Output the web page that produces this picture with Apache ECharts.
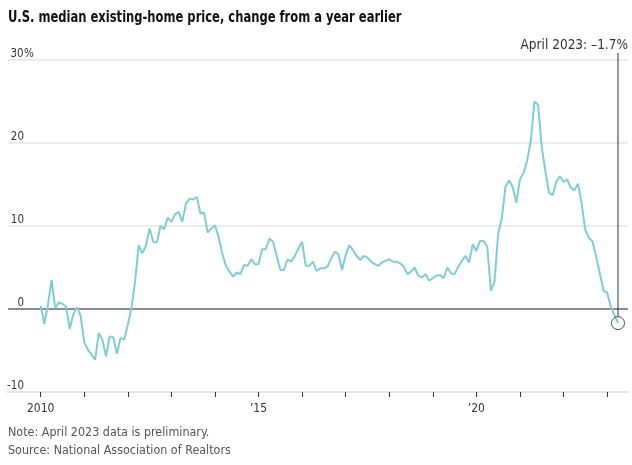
<!DOCTYPE html>
<html><head><meta charset="utf-8">
<script src="https://cdn.jsdelivr.net/npm/echarts@6/dist/echarts.min.js"></script>
<style>html,body{margin:0;padding:0;background:#fff}#c{width:632px;height:465px}</style>
</head><body><div id="c"></div>
<script>
// Monthly year-over-year change (%), Jan 2010 – Apr 2023
const startYear = 2010;
const v2010 = [0.4, -1.8, 0.5, 3.5, 0.1, 0.8, 0.6, 0.3, -2.4, -0.6, 0.2, -0.8];
const v2011 = [-4.0, -4.9, -5.5, -6.1, -2.9, -3.7, -5.7, -3.3, -3.4, -5.4, -3.5, -3.7];
const v2012 = [-1.9, 0.1, 3.3, 7.7, 6.7, 7.6, 9.7, 8.1, 8.0, 10.0, 9.6, 11.0];
const v2013 = [10.5, 11.4, 11.7, 10.5, 12.7, 13.3, 13.2, 13.5, 11.5, 11.6, 9.2, 9.7];
const v2014 = [10.1, 8.7, 6.7, 5.2, 4.5, 3.9, 4.4, 4.2, 5.3, 5.2, 6.0, 5.4];
const v2015 = [5.4, 7.2, 7.2, 8.5, 8.1, 6.4, 4.7, 4.7, 6.0, 5.7, 6.4, 7.3];
const v2016 = [8.1, 5.2, 5.2, 5.7, 4.6, 4.9, 4.9, 5.1, 6.1, 6.9, 6.6, 4.7];
const v2017 = [6.5, 7.7, 7.1, 6.4, 5.9, 6.4, 6.2, 5.7, 5.4, 5.2, 5.6, 5.8];
const v2018 = [6.0, 5.7, 5.7, 5.5, 5.1, 4.2, 4.5, 5.0, 4.0, 3.8, 4.2, 3.4];
const v2019 = [3.7, 4.0, 4.1, 3.7, 5.0, 4.3, 4.2, 5.1, 5.8, 6.4, 5.6, 7.8];
const v2020 = [7.0, 8.2, 8.2, 7.5, 2.2, 3.3, 9.1, 10.9, 14.7, 15.5, 14.7, 12.8];
const v2021 = [15.6, 16.4, 17.9, 20.3, 25.0, 24.6, 19.5, 16.6, 14.0, 13.7, 15.3, 16.0];
const v2022 = [15.3, 15.6, 14.6, 14.3, 15.1, 12.7, 9.5, 8.6, 8.1, 6.3, 4.3, 2.2];
const v2023 = [2.0, 0.3, -0.7, -1.7];

const yearTicks = [2010, 2011, 2012, 2013, 2014, 2015, 2016, 2017, 2018, 2019, 2020, 2021, 2022, 2023];
const yearLabels = [2010, 2015, 2020];
const titleText = 'U.S. median existing-home price, change from a year earlier';
const annotationText = 'April 2023: \u20131.7%';
const noteText = 'Note: April 2023 data is preliminary.';
const sourceText = 'Source: National Association of Realtors';

const allValues = [].concat(v2010, v2011, v2012, v2013, v2014, v2015, v2016, v2017, v2018, v2019, v2020, v2021, v2022, v2023);
const points = allValues.map((v, i) => [startYear + i / 12, v]);
const last = points[points.length - 1];

const FONT = "'DejaVu Sans Condensed','Liberation Sans Narrow',sans-serif";
const chart = echarts.init(document.getElementById('c'), null, {renderer: 'canvas'});

chart.setOption({
  animation: false,
  grid: {left: 8, right: 4, top: 60, bottom: 73},
  xAxis: {
    type: 'value', min: 2009.25, max: 2023.48,
    axisLine: {show: true, onZero: false, lineStyle: {color: '#e4e4e4', width: 2}},
    axisTick: {show: true, customValues: yearTicks, length: 5, lineStyle: {color: '#333', width: 1}},
    axisLabel: {
      customValues: yearLabels, margin: 11,
      formatter: v => (v === 2010 ? '2010' : '\u2019' + String(v).slice(2)),
      fontFamily: FONT, fontSize: 12, color: '#333'
    },
    splitLine: {show: false}
  },
  yAxis: {
    type: 'value', min: -10, max: 30, interval: 10,
    axisLine: {show: false}, axisTick: {show: false},
    axisLabel: {
      inside: true, margin: 2, verticalAlign: 'bottom', padding: [0, 0, 0, 0],
      formatter: v => (v === 30 ? '{n|30}{p|%}' : '{n|' + v + '}'),
      rich: {
        n: {width: 14, align: 'right', fontFamily: FONT, fontSize: 11.5, color: '#333'},
        p: {fontFamily: FONT, fontSize: 11.5, color: '#333'}
      }
    },
    splitLine: {lineStyle: {color: '#ececec', width: 2}}
  },
  series: [
    {
      type: 'line', data: points, showSymbol: false, z: 3,
      lineStyle: {color: '#7fced4', width: 2},
      markLine: {
        silent: true, symbol: ['none', 'none'], label: {show: false},
        lineStyle: {color: '#8c8c8c', width: 2, type: 'solid'},
        data: [{yAxis: 0}], z: 2
      }
    },
    {
      type: 'scatter', data: [last], symbol: 'circle', symbolSize: 13, z: 5, silent: true,
      itemStyle: {color: 'rgba(255,255,255,0)', borderColor: '#222', borderWidth: 1}
    }
  ]
});

const px = chart.convertToPixel({seriesIndex: 1}, last);
function txt(text, x, y, font, fill, sx, align) {
  return {type: 'text', silent: true, z: 10, x: x, y: y, scaleX: sx,
    style: {text: text, font: font, fill: fill, align: align || 'left', verticalAlign: 'middle'}};
}
chart.setOption({
  graphic: [
    txt(titleText, 8, 18, 'bold 15px ' + FONT, '#111', 0.855),
    txt(noteText, 8, 433, '13px ' + FONT, '#555', 0.955),
    txt(sourceText, 8, 451, '13px ' + FONT, '#555', 0.955),
    txt(annotationText, 628, 45, '14px ' + FONT, '#333', 0.965, 'right'),
    {type: 'line', z: 10, silent: true, shape: {x1: px[0], y1: 53, x2: px[0], y2: px[1] - 6.5}, style: {stroke: '#333', lineWidth: 1}}
  ]
});
</script></body></html>
